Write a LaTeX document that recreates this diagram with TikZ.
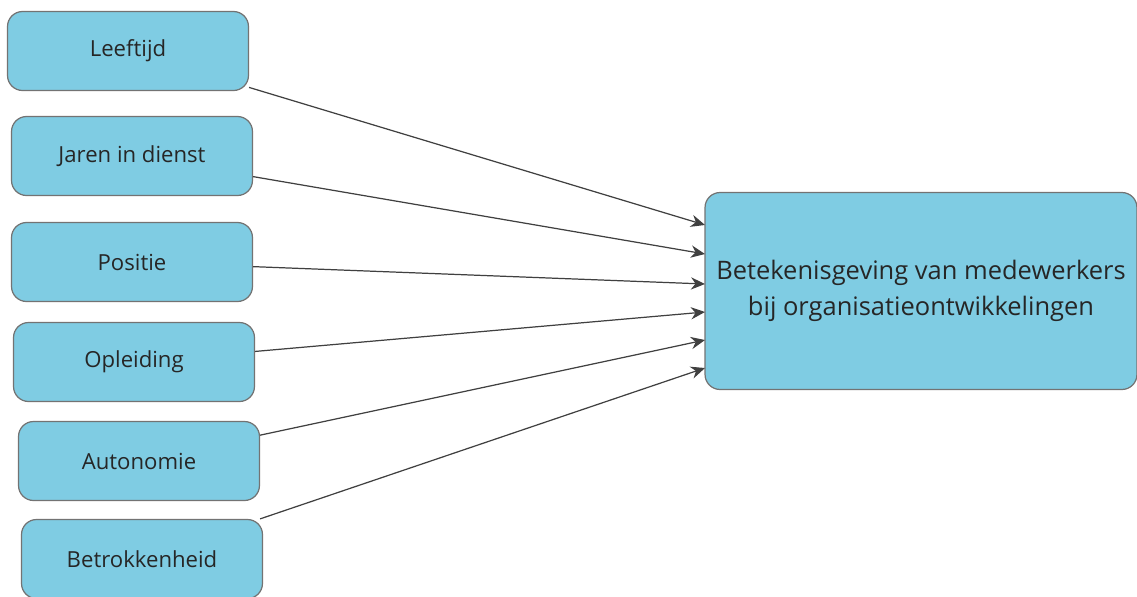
\documentclass[tikz,border=0pt]{standalone}
\usepackage{fontspec}
\setmainfont{Open Sans}
\definecolor{boxblue}{RGB}{127,204,227}
\definecolor{boxline}{RGB}{115,115,115}
\definecolor{pijl}{RGB}{64,64,64}
\usetikzlibrary{arrows.meta}

\begin{document}
\begin{tikzpicture}[x=0.02cm, y=-0.02cm,
	factor/.style={draw=boxline, line width=0.7pt, fill=boxblue, rounded corners=0.3cm, minimum width=4.82cm, minimum height=1.58cm, text=black!85, font=\fontsize{12.6}{15}\selectfont},
	pijlstijl/.style={draw=pijl, line width=0.7pt, -{Stealth[length=8pt, width=7pt]}}
	]
	
	\useasboundingbox (0,0) rectangle (1137,596);
	
	\node[factor] (leeftijd) at (128,51) {Leeftijd};
	\node[factor] (jaren) at (132,156) {Jaren in dienst};
	\node[factor] (positie) at (132,262) {Positie};
	\node[factor] (opleiding) at (134,362) {Opleiding};
	\node[factor] (autonomie) at (139,461) {Autonomie};
	\node[factor] (betrokken) at (142,559) {Betrokkenheid};
	
	\node[factor, minimum width=8.64cm, minimum height=3.94cm, align=center, font=\fontsize{14.5}{20.5}\selectfont] (doel) at (921,291) {Betekenisgeving van medewerkers\\bij organisatieontwikkelingen};
	
	\coordinate (in1) at (705,225);
	\coordinate (in2) at (705,254);
	\coordinate (in3) at (705,284);
	\coordinate (in4) at (705,312);
	\coordinate (in5) at (705,340);
	\coordinate (in6) at (705,368);
	
	\draw[pijlstijl] (leeftijd) -- (in1);
	\draw[pijlstijl] (jaren) -- (in2);
	\draw[pijlstijl] (positie) -- (in3);
	\draw[pijlstijl] (opleiding) -- (in4);
	\draw[pijlstijl] (autonomie) -- (in5);
	\draw[pijlstijl] (betrokken) -- (in6);
	
\end{tikzpicture}
\end{document}
